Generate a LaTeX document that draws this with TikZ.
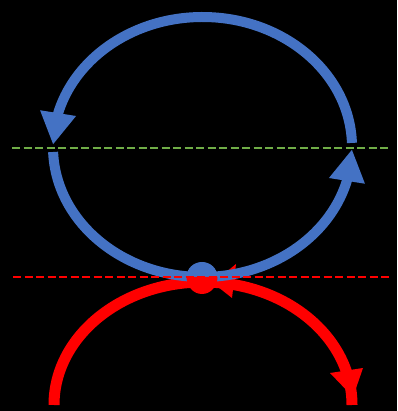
\documentclass[tikz,border=0pt]{standalone}
\usetikzlibrary{arrows.meta,bending}
\definecolor{loopblue}{HTML}{4472C4}
\definecolor{levelgreen}{HTML}{70AD47}
\definecolor{pathred}{HTML}{FF0000}
\begin{document}
\begin{tikzpicture}[
            x=1pt, y=1pt,
            blueloop/.style={draw=loopblue, line width=10pt},
            redpath/.style={draw=pathred, line width=11pt},
            bigtip/.style={-{Triangle[length=32pt, width=34pt, flex]}},
            level/.style={line width=2.2pt, dash pattern=on 8pt off 3.5pt}
                           ]
            % 1. Black background, fixes the margins too
            \fill[black] (0,0) rectangle (397,411);
            \useasboundingbox (0,0) rectangle (397,411);

            % 2. Lower red path and its two arrowheads
            \coordinate (redstart) at (54,6);
            \draw[redpath] (redstart) arc[start angle=180, end angle=0, x radius=149, y radius=123];
            \fill[pathred] (330,38) -- (363,43) -- (353,14) -- cycle;
            \fill[pathred] (236,147) -- (232,113) -- (213,128) -- cycle;

            % 3. Blue loop, upper half and lower half
            \coordinate (bluecentre) at (202.5,264);
            \draw[blueloop, bigtip] (bluecentre) ++(1.8:149.5 and 130)
                arc[start angle=1.8, end angle=179, x radius=149.5, y radius=130];
            \draw[blueloop, bigtip] (bluecentre) ++(182.2:149.5 and 130)
                arc[start angle=182.2, end angle=359, x radius=149.5, y radius=130];

            % 4. Meeting point, half blue and half red
            \coordinate (meet) at (202,134);
            \fill[loopblue] (meet) ++(-15.5,0) arc[start angle=180, end angle=0, x radius=15.5, y radius=15] -- cycle;
            \fill[pathred] (meet) ++(-15.5,0) arc[start angle=180, end angle=360, x radius=15.5, y radius=17] -- cycle;

            % 5. Dashed levels
            \draw[level, levelgreen] (12,263) -- (391,263);
            \draw[level, pathred] (13,134) -- (392,134);

        \end{tikzpicture}
\end{document}
